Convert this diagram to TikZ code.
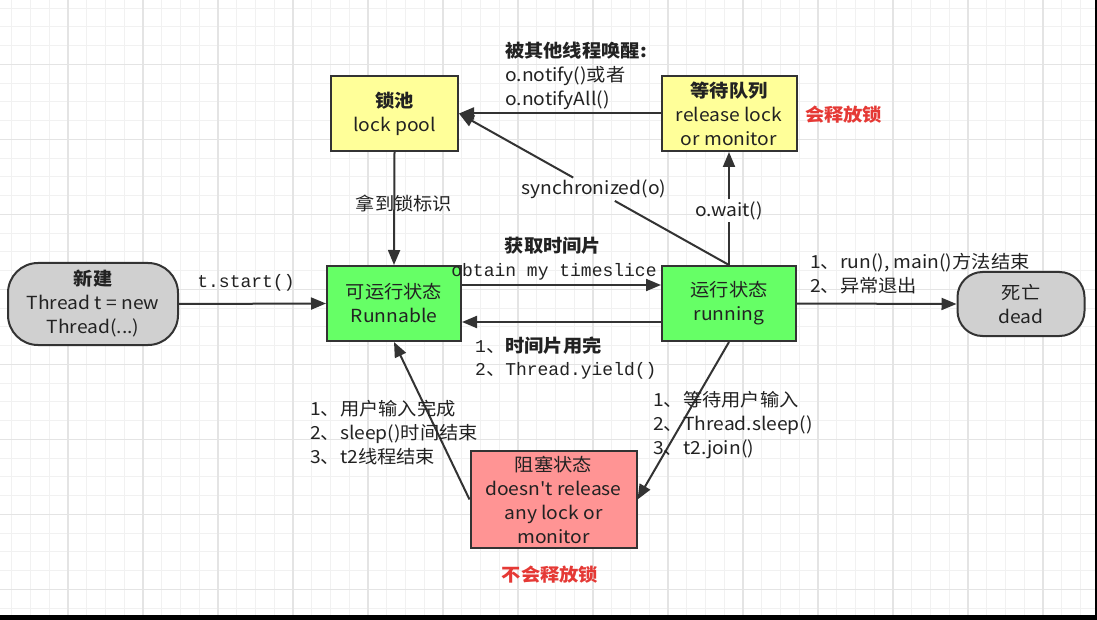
\documentclass[tikz,border=0pt]{standalone}
\usepackage{fontspec}
\setmainfont{Noto Sans CJK SC}[Ligatures=TeXOff, FakeStretch=1.07]
\setmonofont{Liberation Mono}
\usetikzlibrary{arrows.meta}
\definecolor{edge}{HTML}{333333}
\definecolor{txt}{HTML}{222222}
\definecolor{yel}{HTML}{FFFF99}
\definecolor{grn}{HTML}{66FF66}
\definecolor{gry}{HTML}{D0D0D0}
\definecolor{pnk}{HTML}{FF9494}
\definecolor{redt}{HTML}{E53935}
\definecolor{gminor}{HTML}{F1F1F1}
\definecolor{gmajor}{HTML}{E4E4E4}
\begin{document}
\begin{tikzpicture}[x=1pt,y=-1pt,
  box/.style={draw=edge, line width=2pt, align=center, text=txt, inner sep=0pt,
    font=\fontsize{18}{24}\selectfont},
  lbl/.style={text=txt, inner sep=0pt, align=left, font=\fontsize{18}{24}\selectfont},
  mono/.style={text=txt, inner sep=0pt, align=left, font=\fontsize{18}{23}\selectfont\ttfamily},
  redlbl/.style={text=redt, inner sep=0pt, font=\fontsize{18}{24}\selectfont\bfseries},
  conn/.style={draw=edge, line width=2pt},
  arr/.style={draw=edge, line width=2pt, -{Triangle[length=15pt,width=12pt]}}]
\useasboundingbox (0,0) rectangle (1097,620);
\fill[white] (0,0) rectangle (1097,620);
% grid
\foreach \i in {0,...,57} \draw[gminor, line width=1pt] ({11.8+\i*18.75},0) -- ({11.8+\i*18.75},615);
\foreach \j in {0,...,32} \draw[gminor, line width=1pt] (0,{8.05+\j*18.75}) -- (1095,{8.05+\j*18.75});
\foreach \i in {0,...,13} \draw[gmajor, line width=1.5pt] ({68.05+\i*75},0) -- ({68.05+\i*75},615);
\foreach \j in {0,...,7} \draw[gmajor, line width=1.5pt] (0,{64.3+\j*75}) -- (1095,{64.3+\j*75});
\fill[black] (1095,0) rectangle (1097,620);
\fill[black] (0,615) rectangle (1097,620);

% nodes
\node[box, fill=yel, minimum width=127pt, minimum height=75pt] (lockpool) at (394.5,113.5)
  {\bfseries 锁池\\lock pool};
\node[box, fill=yel, minimum width=135pt, minimum height=75pt] (waitq) at (729,113.5)
  {\bfseries 等待队列\\release lock\\or monitor};
\node[box, fill=gry, rounded corners=30pt, minimum width=170pt, minimum height=82pt] (newt) at (93,304)
  {\bfseries 新建\\Thread t = new\\Thread(...)};
\node[box, fill=grn, minimum width=134pt, minimum height=75pt] (runnable) at (394,303.5)
  {可运行状态\\Runnable};
\node[box, fill=grn, minimum width=134pt, minimum height=75pt] (running) at (729,303.5)
  {运行状态\\running};
\node[box, fill=gry, rounded corners=25pt, minimum width=127pt, minimum height=64pt] (dead) at (1021,304)
  {死亡\\dead};
\node[box, fill=pnk, minimum width=166pt, minimum height=97pt] (blocked) at (553.5,499.5)
  {阻塞状态\\doesn't release\\any lock or\\monitor};

% connectors
\draw[arr] (newt.east) -- (runnable.west);
\draw[arr] (lockpool.south) -- (runnable.north);
\draw[arr] (waitq.west) -- (lockpool.east);
\path (running.north) -- node[pos=0.5, lbl, inner sep=2pt] (sync) {synchronized(o)} (lockpool.east);
\draw[conn] (running.north) -- (sync);
\draw[arr] (sync) -- (lockpool.east);
\path (running.north) -- node[pos=0.48, lbl, inner sep=2pt] (wait) {o.wait()} (waitq.south);
\draw[conn] (running.north) -- (wait);
\draw[arr] (wait) -- (waitq.south);
\draw[arr] ([yshift=18.5pt]runnable.east) -- ([yshift=18.5pt]running.west);
\draw[arr] ([yshift=-18.5pt]running.west) -- ([yshift=-18.5pt]runnable.east);
\draw[arr] (running.east) -- (dead.west);
\draw[arr] (blocked.west) -- (runnable.south);
\draw[arr] (running.south) -- (blocked.east);

% labels
\node[mono] (tstart) at (246,283) {t.start()};
\node[lbl] (getlock) at (404,203) {拿到锁标识};
\node[lbl, font=\fontsize{18}{24}\selectfont\bfseries] (gettime) at (553,246) {获取时间片};
\node[mono] (obtain) at (554,272) {obtain my timeslice};
\node[lbl, anchor=west] (yield) at (475,358.5)
  {{\ttfamily 1}、\bfseries 时间片用完\\[-1pt]{\ttfamily 2}、{\ttfamily Thread.yield()}};
\node[lbl, anchor=west] (notify) at (505,76)
  {\bfseries 被其他线程唤醒:\\o.notify()或者\\o.notifyAll()};
\node[redlbl, anchor=west] (release) at (805,115) {会释放锁};
\node[lbl, anchor=west] (runend) at (810,273.5) {1、run(), main()方法结束\\2、异常退出};
\node[lbl, anchor=west] (wake) at (310,433) {1、用户输入完成\\2、sleep()时间结束\\3、t2线程结束};
\node[lbl, anchor=west] (block) at (653,425.5) {1、等待用户输入\\2、Thread.sleep()\\3、t2.join()};
\node[redlbl] (norelease) at (550,575) {不会释放锁};
\end{tikzpicture}
\end{document}
